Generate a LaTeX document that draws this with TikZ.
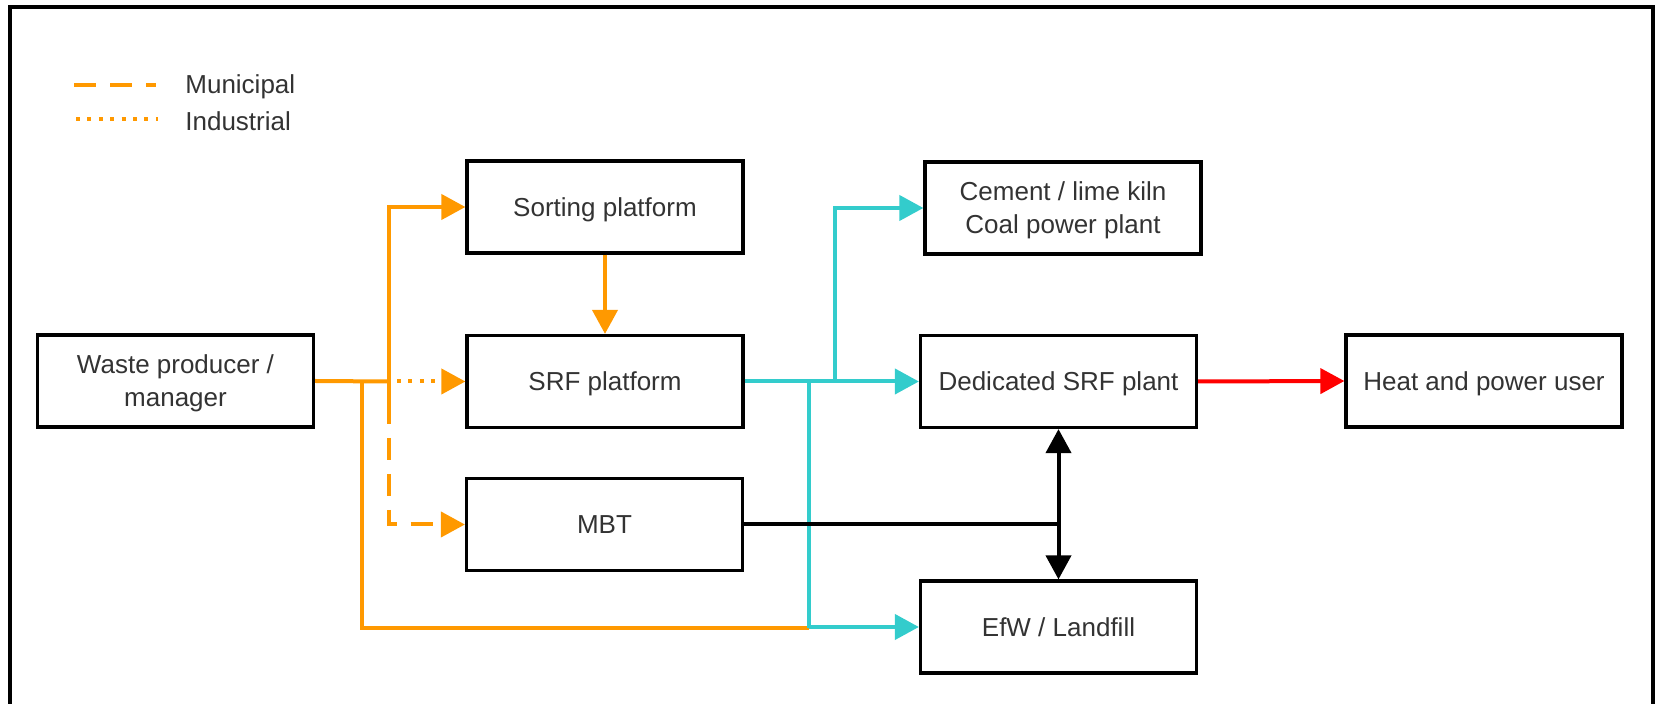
\documentclass[tikz,border=0pt]{standalone}
\usepackage{fontspec}
\setmainfont{Liberation Sans}
\usetikzlibrary{arrows.meta}
\definecolor{flowora}{HTML}{FF9900}
\definecolor{flowcya}{HTML}{33CCCC}
\definecolor{flowred}{HTML}{FF0000}
\definecolor{txtgray}{HTML}{333333}
\tikzset{
  px/.style={x=0.5pt,y=-0.5pt},
  stagebox/.style={draw=black,line width=1.6pt,fill=white,
    minimum width=138pt,minimum height=46pt,inner sep=0pt,
    text depth=0pt,
    align=center,text=txtgray,font=\fontsize{13}{16.5}\selectfont},
  flow/.style={line width=2pt,line join=miter,
    -{Triangle[length=12pt,width=12.5pt]}},
  plainflow/.style={line width=2pt,line join=miter},
  muni/.style={dash pattern=on 11pt off 7pt},
  indu/.style={dash pattern=on 2pt off 3.7pt},
  legtext/.style={anchor=west,text=txtgray,inner sep=0pt,
    font=\fontsize{13}{16}\selectfont},
}
\begin{document}
\begin{tikzpicture}[px]
\useasboundingbox (0,0) rectangle (1656,704);
% outer frame
\draw[line width=1.6pt] (10,704) -- (10,7) -- (1653,7) -- (1653,704);

% legend
\coordinate (lm0) at (74,85);
\coordinate (lm1) at (156,85);
\coordinate (li0) at (76,119);
\coordinate (li1) at (158,119);
\draw[plainflow,flowora,muni] (lm0) -- (lm1);
\draw[plainflow,flowora,indu] (li0) -- (li1);
\node[legtext] (legm) at (185,87) {Municipal};
\node[legtext] (legi) at (185,121) {Industrial};

% stages
\node[stagebox] (waste)  at (175.5,381)  {Waste producer /\\manager};
\node[stagebox] (sort)   at (605,207)    {Sorting platform};
\node[stagebox] (srf)    at (605,381.5)  {SRF platform};
\node[stagebox] (mbt)    at (604.5,524.5){MBT};
\node[stagebox] (cement) at (1063,208)   {Cement / lime kiln\\Coal power plant};
\node[stagebox] (ded)    at (1058.5,381.5){Dedicated SRF plant};
\node[stagebox] (efw)    at (1058.5,627) {EfW / Landfill};
\node[stagebox] (heat)   at (1484,381)   {Heat and power user};

% junction points
\coordinate (jA) at (362,381.5);
\coordinate (jB) at (389,381.5);
\coordinate (jBd) at (389,402);
\coordinate (jBi) at (397,381.5);
\coordinate (cA) at (809,381.5);
\coordinate (cB) at (809,628);
\coordinate (cC) at (835,381.5);
\coordinate (kA) at (ded.south |- mbt.east);

% waste producer outputs (orange)
\draw[plainflow,flowora] (waste.east) -- (jB);
\draw[flow,flowora] (jBd) -- (jB) |- (sort.west);
\draw[flow,flowora,indu] (jBi) -- (srf.west);
\draw[flow,flowora,muni] (jBd) |- (mbt.west);
\draw[plainflow,flowora] (jA) |- (cB);
\draw[flow,flowora] (sort.south) -- (srf.north);

% SRF outputs (cyan)
\draw[flow,flowcya] (srf.east) -- (ded.west);
\draw[flow,flowcya] (cC) |- (cement.west);
\draw[flow,flowcya] (cA) -- (cB) |- (efw.west);

% MBT link and two-way exchange (black)
\draw[plainflow,black] (mbt.east) -- (kA);
\draw[line width=2pt,black,
  {Triangle[length=12pt,width=12.5pt]}-{Triangle[length=12pt,width=12.5pt]}]
  (ded.south) -- (efw.north);

% energy delivery (red)
\draw[flow,flowred] (ded.east) -- (heat.west);
\end{tikzpicture}
\end{document}
